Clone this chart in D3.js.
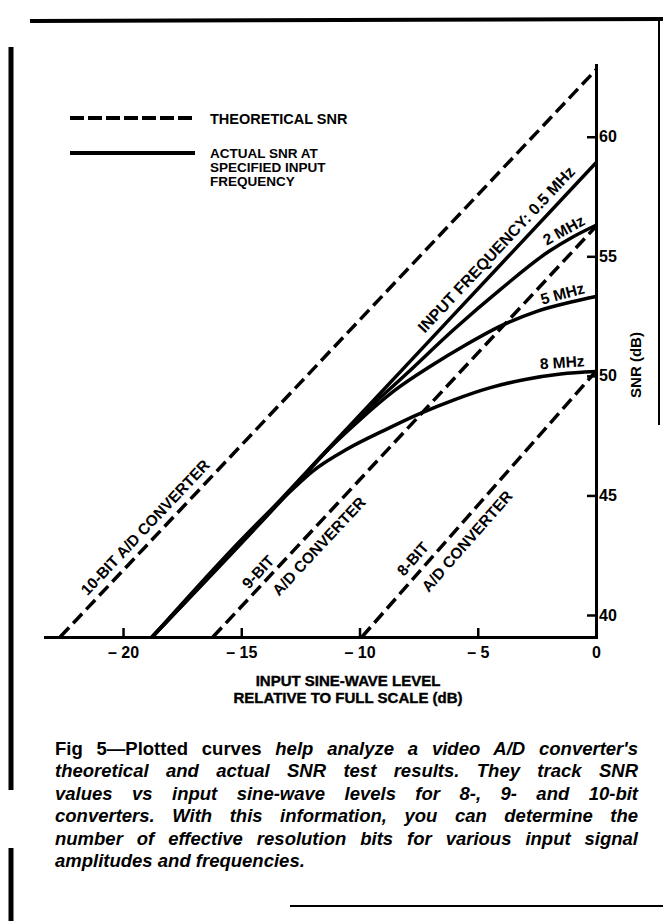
<!DOCTYPE html>
<html>
<head>
<meta charset="utf-8">
<script src="https://cdn.jsdelivr.net/npm/d3@7"></script>
<style>
  body { margin: 0; background: #fff; }
  svg { display: block; font-family: "Liberation Sans", Arial, Helvetica, sans-serif; }
  .axis path, .axis line { stroke: #000; }
  .axis text { font-size: 16px; font-weight: bold; fill: #000; }
  .lbl { font-weight: bold; fill: #000; }
</style>
</head>
<body>
<div id="chart"></div>
<script>
// input sine-wave level (dB re full scale) vs SNR (dB)
const xTicks = [-20, -15, -10, -5, 0];
const yTicks = [40, 45, 50, 55, 60];

// theoretical SNR (dashed)
const tenBit   = [[-22.66, 39.08], [0, 62.8]];
const nineBit  = [[-16.2, 39.08], [0, 56.25]];
const eightBit = [[-9.9, 39.08], [0, 50.2]];

// actual SNR at specified input frequency (solid)
const snr05MHz = [[-18.77, 39.08], [-13, 45.18], [-8, 50.46], [-4, 54.69], [0, 58.91]];
const snr2MHz  = [[-18.77, 39.08], [-13, 45.14], [-10, 48.28], [-8, 50.1], [-6, 51.95],
                  [-4, 53.65], [-2, 55.2], [-1, 55.8], [0, 56.3]];
const snr5MHz  = [[-18.77, 39.08], [-13, 45.12], [-11.5, 46.75], [-10, 48.15], [-8.5, 49.4],
                  [-7, 50.4], [-5.5, 51.3], [-4, 52.1], [-2.5, 52.7], [-1, 53.1], [0, 53.32]];
const snr8MHz  = [[-18.77, 39.08], [-13, 45.1], [-12, 46.0], [-10.5, 46.95], [-9, 47.7],
                  [-7.5, 48.4], [-6, 49.0], [-4.5, 49.5], [-3, 49.85], [-1.5, 50.08], [0, 50.18]];

const legendLabels = ["THEORETICAL SNR", ["ACTUAL SNR AT", "SPECIFIED INPUT", "FREQUENCY"]];
const captionLines = [
    ["Fig 5\u2014Plotted curves", " help analyze a video A/D converter's"],
    "theoretical and actual SNR test results. They track SNR",
    "values vs input sine-wave levels for 8-, 9- and 10-bit",
    "converters. With this information, you can determine the",
    "number of effective resolution bits for various input signal",
    "amplitudes and frequencies."
];

function SnrChart(container) {
    const width = 663, height = 921;

    const svg = d3.select(container).append("svg")
        .attr("width", width)
        .attr("height", height);

    const xScale = d3.scaleLinear().domain([-23.3, 0]).range([45, 596]);
    const yScale = d3.scaleLinear().domain([39.08, 63]).range([637, 65]);

    const line = d3.line()
        .x(d => xScale(d[0]))
        .y(d => yScale(d[1]));

    // page frame bits from the scan
    const frame = svg.append("g").attr("stroke", "#000").attr("fill", "none");
    frame.append("line").attr("x1", 30).attr("y1", 21).attr("x2", 663).attr("y2", 19).attr("stroke-width", 4);
    frame.append("line").attr("x1", 11).attr("y1", 47).attr("x2", 11).attr("y2", 790).attr("stroke-width", 5);
    frame.append("line").attr("x1", 11).attr("y1", 848).attr("x2", 11).attr("y2", 921).attr("stroke-width", 5);
    frame.append("line").attr("x1", 659).attr("y1", 20).attr("x2", 659).attr("y2", 425).attr("stroke-width", 2);
    frame.append("line").attr("x1", 290).attr("y1", 906).attr("x2", 663).attr("y2", 906).attr("stroke-width", 2);

    // axes
    const xAxis = d3.axisBottom(xScale)
        .tickValues(xTicks)
        .tickSizeInner(-9)
        .tickSizeOuter(0)
        .tickPadding(10)
        .tickFormat(d => d === 0 ? "0" : "\u2013 " + Math.abs(d));

    const yAxis = d3.axisRight(yScale)
        .tickValues(yTicks)
        .tickSizeInner(-9)
        .tickSizeOuter(0)
        .tickPadding(3);

    svg.append("g")
        .attr("class", "axis x-axis")
        .attr("transform", `translate(0, ${yScale.range()[0]})`)
        .call(xAxis);

    svg.append("g")
        .attr("class", "axis y-axis")
        .attr("transform", `translate(${xScale.range()[1]}, 0)`)
        .call(yAxis);

    svg.selectAll(".axis path").attr("stroke-width", 3);
    svg.selectAll(".axis line").attr("stroke-width", 2.5);
    svg.selectAll(".axis .domain").attr("stroke-linecap", "square");

    // theoretical lines
    svg.selectAll(".theory")
        .data([tenBit, nineBit, eightBit])
        .enter().append("path")
        .attr("class", "theory")
        .attr("d", line)
        .attr("fill", "none")
        .attr("stroke", "#000")
        .attr("stroke-width", 3.5)
        .attr("stroke-dasharray", "13,6");

    // actual curves
    const curve = d3.line()
        .curve(d3.curveMonotoneX)
        .x(d => xScale(d[0]))
        .y(d => yScale(d[1]));

    svg.selectAll(".actual")
        .data([snr05MHz, snr2MHz, snr5MHz, snr8MHz])
        .enter().append("path")
        .attr("class", "actual")
        .attr("d", curve)
        .attr("fill", "none")
        .attr("stroke", "#000")
        .attr("stroke-width", 3.5)
        .attr("stroke-linecap", "round");

    // value on a series at xv (linear between read points)
    function valueAt(series, xv) {
        const i = Math.max(1, Math.min(series.length - 1, d3.bisector(d => d[0]).left(series, xv)));
        const a = series[i - 1], b = series[i];
        return a[1] + (b[1] - a[1]) * (xv - a[0]) / (b[0] - a[0]);
    }

    // text laid along a series, offset dy across it
    function along(series, xv, dy, text, size) {
        const px = xScale(xv), py = yScale(valueAt(series, xv));
        const x2 = xScale(xv + 0.3), y2 = yScale(valueAt(series, xv + 0.3));
        const angle = Math.atan2(y2 - py, x2 - px) * 180 / Math.PI;
        svg.append("text")
            .attr("class", "lbl")
            .attr("transform", `translate(${px},${py}) rotate(${angle})`)
            .attr("y", dy)
            .attr("text-anchor", "middle")
            .style("font-size", size + "px")
            .text(text);
    }

    along(snr05MHz, -3.8, -8, "INPUT FREQUENCY: 0.5 MHz", 16);
    along(snr2MHz, -1.15, -5, "2 MHz", 15.5);
    along(snr5MHz, -1.3, -5, "5 MHz", 15.5);
    along(snr8MHz, -1.4, -6, "8 MHz", 15.5);
    along(tenBit, -18.65, -8, "10-BIT A/D CONVERTER", 15.5);
    along(nineBit, -13.94, -6, "9-BIT", 15.5);
    along(nineBit, -12.2, 21, "A/D CONVERTER", 15.5);
    along(eightBit, -7.32, -8, "8-BIT", 15.5);
    along(eightBit, -5.95, 21, "A/D CONVERTER", 15.5);

    // axis titles
    svg.append("text")
        .attr("class", "lbl")
        .attr("transform", "translate(641, 365) rotate(-90)")
        .attr("text-anchor", "middle")
        .style("font-size", "15px")
        .text("SNR (dB)");

    const xTitle = svg.append("text")
        .attr("class", "lbl")
        .attr("text-anchor", "middle")
        .style("font-size", "15px")
        .attr("stroke", "#000")
        .attr("stroke-width", 0.4);
    xTitle.append("tspan").attr("x", 348).attr("y", 686).text("INPUT SINE-WAVE LEVEL");
    xTitle.append("tspan").attr("x", 348).attr("y", 703).text("RELATIVE TO FULL SCALE (dB)");

    // legend
    const legend = svg.append("g");
    legend.append("line")
        .attr("x1", 70).attr("x2", 195).attr("y1", 118).attr("y2", 118)
        .attr("stroke", "#000").attr("stroke-width", 4).attr("stroke-dasharray", "14,4");
    legend.append("line")
        .attr("x1", 70).attr("x2", 195).attr("y1", 153).attr("y2", 153)
        .attr("stroke", "#000").attr("stroke-width", 4);
    legend.append("text")
        .attr("class", "lbl")
        .attr("x", 210).attr("y", 124)
        .style("font-size", "14.5px")
        .text(legendLabels[0]);
    legend.append("text")
        .attr("class", "lbl")
        .style("font-size", "13.5px")
        .selectAll("tspan")
        .data(legendLabels[1])
        .enter().append("tspan")
        .attr("x", 210)
        .attr("y", (d, i) => 158 + i * 14)
        .text(d => d);

    // caption, justified by widening the word gaps
    const capLeft = 55, capWidth = 583;
    const cap = svg.append("g").style("font-size", "18.5px").style("font-weight", "bold").attr("fill", "#000");
    captionLines.forEach((ln, i) => {
        const t = cap.append("text")
            .attr("x", capLeft)
            .attr("y", 755 + i * 22.4);
        if (Array.isArray(ln)) {
            t.append("tspan").style("font-weight", "900").text(ln[0]);
            t.append("tspan").style("font-style", "italic").text(ln[1]);
        } else {
            t.style("font-style", "italic").text(ln);
        }
        if (i < captionLines.length - 1) {
            const full = Array.isArray(ln) ? ln.join("") : ln;
            const gaps = full.split(" ").length - 1;
            const w = t.node().getComputedTextLength();
            t.style("word-spacing", ((capWidth - w) / gaps) + "px");
        }
    });

    return svg;
}

SnrChart("#chart");
</script>
</body>
</html>
